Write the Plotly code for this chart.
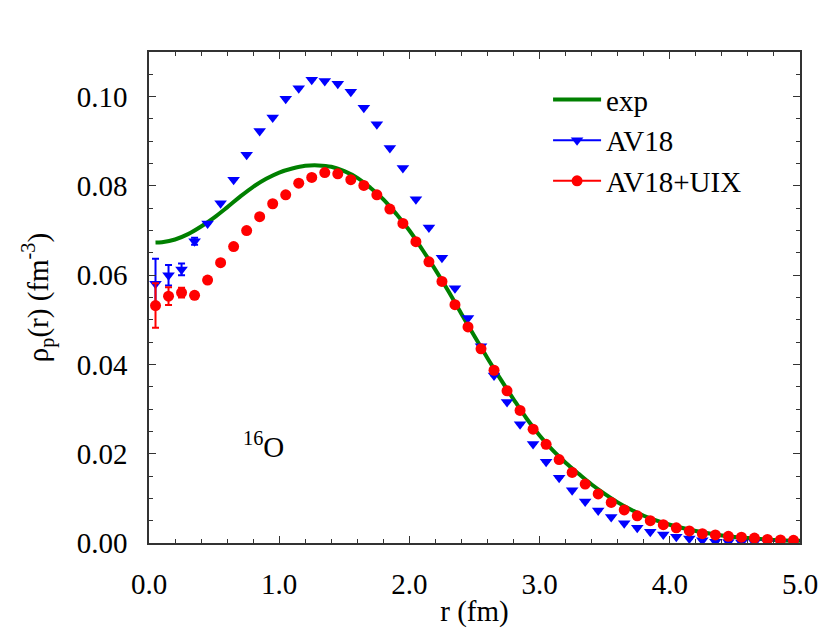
import plotly.graph_objects as go

# ---- data ----
r_pts = [0.05, 0.15, 0.25, 0.35, 0.45, 0.55, 0.65, 0.75, 0.85, 0.95,
         1.05, 1.15, 1.25, 1.35, 1.45, 1.55, 1.65, 1.75, 1.85, 1.95,
         2.05, 2.15, 2.25, 2.35, 2.45, 2.55, 2.65, 2.75, 2.85, 2.95,
         3.05, 3.15, 3.25, 3.35, 3.45, 3.55, 3.65, 3.75, 3.85, 3.95,
         4.05, 4.15, 4.25, 4.35, 4.45, 4.55, 4.65, 4.75, 4.85, 4.95]

av18 = [0.0581, 0.0600, 0.0613, 0.0676, 0.0716, 0.0761, 0.0814, 0.0870, 0.0923, 0.0953,
        0.0995, 0.1019, 0.1038, 0.1035, 0.1029, 0.1011, 0.0975, 0.0938, 0.0885, 0.0840,
        0.0770, 0.0707, 0.0639, 0.0571, 0.0504, 0.0441, 0.0375, 0.0316, 0.0266, 0.0222,
        0.0182, 0.0146, 0.0118, 0.0093, 0.0073, 0.0058, 0.0044, 0.0034, 0.0025, 0.0019,
        0.0014, 0.0010, 0.0006, 0.0003, 0.0002, 0.0001, 0.0001, 0.0001, 0.0000, 0.0000]
av18_err = [0.0056, 0.0023, 0.0013, 0.0008] + [0.0] * 46

av18uix = [0.0532, 0.0553, 0.0561, 0.0555, 0.0589, 0.0628, 0.0664, 0.0700, 0.0731, 0.0760,
           0.0780, 0.0806, 0.0819, 0.0830, 0.0827, 0.0814, 0.0801, 0.0780, 0.0748, 0.0716,
           0.0675, 0.0630, 0.0586, 0.0534, 0.0484, 0.0435, 0.0387, 0.0341, 0.0297, 0.0255,
           0.0221, 0.0187, 0.0158, 0.0132, 0.0110, 0.0091, 0.0074, 0.0061, 0.0050, 0.0041,
           0.0034, 0.0027, 0.0021, 0.0018, 0.0015, 0.0013, 0.0011, 0.0008, 0.0007, 0.0006]
av18uix_err = [0.0050, 0.0020, 0.0011, 0.0006] + [0.0] * 46

r_exp = [0.05, 0.1, 0.2, 0.3, 0.4, 0.5, 0.6, 0.7, 0.8, 0.9, 1.0, 1.1, 1.2, 1.3, 1.4,
         1.5, 1.6, 1.7, 1.8, 1.9, 2.0, 2.1, 2.2, 2.3, 2.4, 2.5, 2.6, 2.7, 2.8, 2.9,
         3.0, 3.1, 3.2, 3.3, 3.4, 3.5, 3.6, 3.7, 3.8, 3.9, 4.0, 4.2, 4.4, 4.6, 4.8, 5.0]
rho_exp = [0.0673, 0.0674, 0.0680, 0.0692, 0.0709, 0.0729, 0.0752, 0.0776, 0.0798, 0.0816,
           0.0830, 0.0839, 0.0845, 0.0846, 0.0843, 0.0833, 0.0818, 0.0796, 0.0770, 0.0737,
           0.0700, 0.0657, 0.0612, 0.0564, 0.0513, 0.0463, 0.0414, 0.0367, 0.0322, 0.0279,
           0.0241, 0.0208, 0.0180, 0.0155, 0.0131, 0.0110, 0.0091, 0.0075, 0.0061, 0.0050,
           0.0041, 0.0027, 0.0017, 0.0011, 0.0007, 0.0005]

FONT = "Liberation Serif"
AX = "#333333"
GREEN, BLUE, RED = "#008000", "#0000ff", "#ff0000"
FS = 29

fig = go.Figure()

fig.add_trace(go.Scatter(x=r_exp, y=rho_exp, mode="lines", name="exp",
                         line=dict(color=GREEN, width=4, shape="spline"),
                         showlegend=True, legendrank=1))

fig.add_trace(go.Scatter(x=r_pts, y=av18, mode="markers", name="AV18",
                         marker=dict(symbol="triangle-down", size=11, color=BLUE),
                         error_y=dict(type="data", array=av18_err, visible=True,
                                      color=BLUE, thickness=2, width=3.5),
                         showlegend=False))
fig.add_trace(go.Scatter(x=[None], y=[None], mode="lines+markers", name="AV18",
                         marker=dict(symbol="triangle-down", size=11, color=BLUE),
                         line=dict(color=BLUE, width=2), legendrank=2))

fig.add_trace(go.Scatter(x=r_pts, y=av18uix, mode="markers", name="AV18+UIX",
                         marker=dict(symbol="circle", size=11, color=RED),
                         error_y=dict(type="data", array=av18uix_err, visible=True,
                                      color=RED, thickness=2, width=3.5),
                         showlegend=False))
fig.add_trace(go.Scatter(x=[None], y=[None], mode="lines+markers", name="AV18+UIX",
                         marker=dict(symbol="circle", size=11, color=RED),
                         line=dict(color=RED, width=2), legendrank=3))

fig.add_annotation(x=0.88, y=0.022, xref="x", yref="y", text="<sup>16</sup>O",
                   showarrow=False, font=dict(family=FONT, size=FS, color="black"))

axis_common = dict(showline=True, linecolor=AX, linewidth=1.5, mirror="ticks",
                   ticks="inside", tickcolor=AX, tickwidth=1.2, ticklen=7,
                   showgrid=False, zeroline=False,
                   tickfont=dict(family=FONT, size=FS, color="black"))

fig.update_xaxes(range=[0, 5], dtick=1, tick0=0, tickformat=".1f",
                 minor=dict(dtick=0.2, ticks="inside", ticklen=4, tickcolor=AX, showgrid=False),
                 title=dict(text="r (fm)", font=dict(family=FONT, size=FS, color="black"), standoff=2),
                 ticklabelstandoff=14, **axis_common)
fig.update_yaxes(range=[0, 0.11], dtick=0.02, tick0=0, tickformat=".2f",
                 minor=dict(dtick=0.005, ticks="inside", ticklen=4, tickcolor=AX, showgrid=False),
                 title=dict(text="ρ<sub>p</sub>(r) (fm<sup>-3</sup>)",
                            font=dict(family=FONT, size=FS, color="black"), standoff=20),
                 ticklabelstandoff=14, **axis_common)

fig.update_layout(width=830, height=642,
                  margin=dict(l=149, r=22, t=52, b=99),
                  paper_bgcolor="white", plot_bgcolor="white",
                  font=dict(family=FONT, size=FS, color="black"),
                  legend=dict(x=0.613, y=0.955, xanchor="left", yanchor="top",
                              bgcolor="rgba(0,0,0,0)", borderwidth=0,
                              itemwidth=48,
                              font=dict(family=FONT, size=FS, color="black"),
                              tracegroupgap=0))

fig.write_html("out.html", config={"displayModeBar": False},
               post_script="document.body.style.margin='0';")
